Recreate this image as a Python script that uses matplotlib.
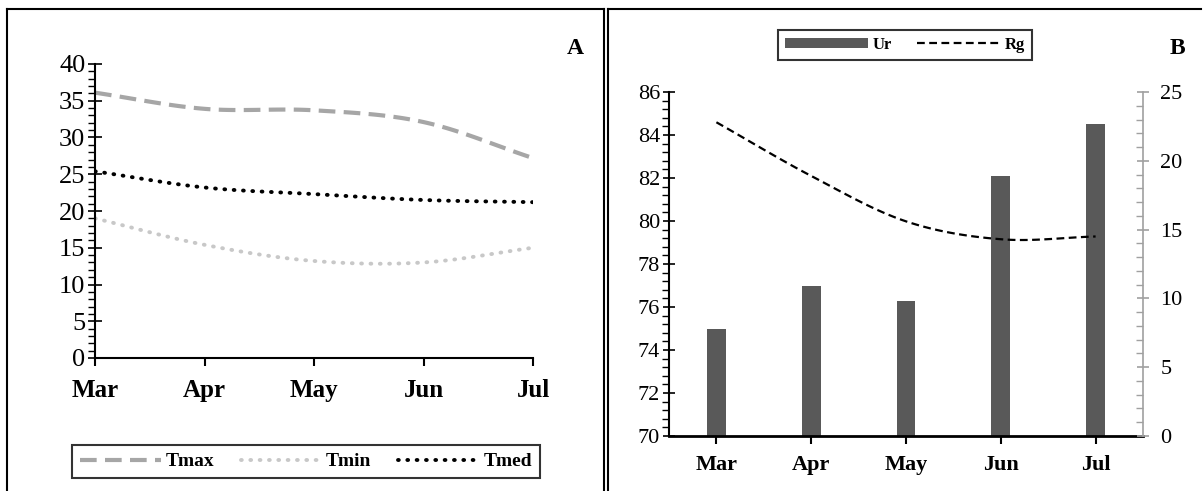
import numpy as np
import matplotlib
matplotlib.use("Agg")
import matplotlib.pyplot as plt
from matplotlib.lines import Line2D
from matplotlib.patches import Patch
from matplotlib.ticker import MultipleLocator

plt.rcParams['font.family'] = ['Liberation Serif', 'DejaVu Serif']

months = ["Mar", "Apr", "May", "Jun", "Jul"]

# panel A - temperatures
tmax = [36.1, 33.9, 33.7, 32.1, 27.2]
tmin = [19.0, 15.4, 13.2, 13.0, 15.0]
tmed = [25.4, 23.2, 22.3, 21.5, 21.2]

# panel B - humidity (bars) and radiation (line)
ur = [75.0, 77.0, 76.3, 82.1, 84.5]
rg = [22.8, 18.9, 15.6, 14.3, 14.5]


def smooth(y, n=30):
    # Excel-like smoothed line (Catmull-Rom through the points)
    y = np.asarray(y, float)
    p = np.concatenate([[2 * y[0] - y[1]], y, [2 * y[-1] - y[-2]]])
    xs, ys = [], []
    for i in range(len(y) - 1):
        t = np.linspace(0, 1, n, endpoint=(i == len(y) - 2))
        p0, p1, p2, p3 = p[i], p[i + 1], p[i + 2], p[i + 3]
        ys.append(0.5 * ((2 * p1) + (-p0 + p2) * t + (2 * p0 - 5 * p1 + 4 * p2 - p3) * t ** 2
                         + (-p0 + 3 * p1 - 3 * p2 + p3) * t ** 3))
        xs.append(i + t)
    return np.concatenate(xs), np.concatenate(ys)


W, H = 1203, 491
fig = plt.figure(figsize=(W / 100, H / 100), dpi=100)


def fx(px):
    return px / W


def fy(py):
    return 1 - py / H


# panel frames
fig.add_artist(Line2D([fx(7), fx(7)], [fy(9), 0], color='black', lw=1.5))
fig.add_artist(Line2D([fx(7), fx(604)], [fy(9), fy(9)], color='black', lw=1.5))
fig.add_artist(Line2D([fx(604), fx(604)], [fy(9), 0], color='black', lw=1.5))
fig.add_artist(Line2D([fx(608), fx(608)], [fy(9), 0], color='black', lw=1.5))
fig.add_artist(Line2D([fx(608), fx(1201)], [fy(9), fy(9)], color='black', lw=1.5))

# ---------- panel A ----------
ax1 = fig.add_axes([fx(95), fy(358), fx(533 - 95), (358 - 64) / H])
x = np.arange(len(months))
sx, sy = smooth(tmax)
ax1.plot(sx, sy, color='#A6A6A6', lw=3, ls=(0, (4, 2)), label='Tmax')
sx, sy = smooth(tmin)
ax1.plot(sx, sy, color='#C8C8C8', lw=2.8, ls=(0, (0.2, 2.2)), dash_capstyle='round', label='Tmin')
sx, sy = smooth(tmed)
ax1.plot(sx, sy, color='black', lw=2.8, ls=(0, (0.2, 2.2)), dash_capstyle='round', label='Tmed')
ax1.set_xlim(0, 4)
ax1.set_ylim(0, 40)
ax1.set_xticks(x)
ax1.set_xticklabels(months, fontsize=18, fontweight='bold')
ax1.set_yticks(range(0, 41, 5))
ax1.yaxis.set_minor_locator(MultipleLocator(1))
ax1.tick_params(axis='y', which='major', direction='inout', length=10, width=1.2, labelsize=19, pad=2)
ax1.tick_params(axis='y', which='minor', direction='out', length=5, width=1)
ax1.tick_params(axis='x', which='major', direction='out', length=6, width=1.5, pad=9)
for s in ['top', 'right']:
    ax1.spines[s].set_visible(False)
ax1.spines['left'].set_linewidth(1.5)
ax1.spines['bottom'].set_linewidth(1.5)
leg1 = fig.legend(handles=ax1.get_lines(), loc='center', ncol=3,
                  bbox_to_anchor=(fx(72), fy(480), fx(540 - 72), (480 - 443) / H),
                  mode='expand', prop={'weight': 'bold', 'size': 14}, handlelength=4.2,
                  handletextpad=0.2, columnspacing=2.0, frameon=True, fancybox=False,
                  borderaxespad=0, borderpad=0.4)
leg1.get_frame().set_edgecolor('black')
leg1.get_frame().set_linewidth(1.5)
fig.text(fx(575), fy(48), "A", fontsize=17, fontweight='bold', ha='center', va='center')

# ---------- panel B ----------
ax2 = fig.add_axes([fx(669), fy(436), fx(1143 - 669), (436 - 92) / H])
ax2.bar(x, ur, width=0.2, bottom=0, color='#595959', label='Ur', zorder=2)
ax2.set_xlim(-0.5, 4.5)
ax2.set_ylim(70, 86)
ax2.set_xticks(x)
ax2.set_xticklabels(months, fontsize=16, fontweight='bold')
ax2.set_yticks(range(70, 87, 2))
ax2.yaxis.set_minor_locator(MultipleLocator(0.4))
ax2.tick_params(axis='y', which='major', direction='inout', length=9, width=1.2, labelsize=16, pad=2)
ax2.tick_params(axis='y', which='minor', direction='out', length=5, width=1)
ax2.tick_params(axis='x', which='major', direction='out', length=6, width=1.5, pad=8)
for s in ['top', 'right']:
    ax2.spines[s].set_visible(False)
ax2.spines['left'].set_linewidth(1.5)
ax2.spines['bottom'].set_linewidth(2)

ax3 = ax2.twinx()
sx, sy = smooth(rg)
ax3.plot(sx, sy, color='black', lw=1.6, ls=(0, (3.5, 2)), label='Rg')
ax3.set_ylim(0, 25)
ax3.set_yticks(range(0, 26, 5))
ax3.yaxis.set_minor_locator(MultipleLocator(1))
for s in ['top', 'left', 'bottom']:
    ax3.spines[s].set_visible(False)
ax3.spines['right'].set_color('#A0A0A0')
ax3.spines['right'].set_linewidth(1.2)
ax3.tick_params(axis='y', which='major', direction='inout', length=9, width=1.2, color='#A0A0A0',
                labelsize=16, pad=8)
ax3.tick_params(axis='y', which='minor', direction='in', length=5, width=1, color='#A0A0A0')

handles = [Patch(facecolor='#595959', label='Ur'), ax3.get_lines()[0]]
leg2 = fig.legend(handles=handles, loc='center', ncol=2,
                  bbox_to_anchor=(fx(778), fy(62), fx(1032 - 778), (62 - 28) / H),
                  mode='expand', prop={'weight': 'bold', 'size': 12}, handlelength=5,
                  handleheight=0.6, handletextpad=0.3, columnspacing=2.5, frameon=True,
                  fancybox=False, borderaxespad=0, borderpad=0.4)
leg2.get_frame().set_edgecolor('black')
leg2.get_frame().set_linewidth(1.5)
fig.text(fx(1177), fy(48), "B", fontsize=17, fontweight='bold', ha='center', va='center')

fig.savefig("out.png", dpi=100)
